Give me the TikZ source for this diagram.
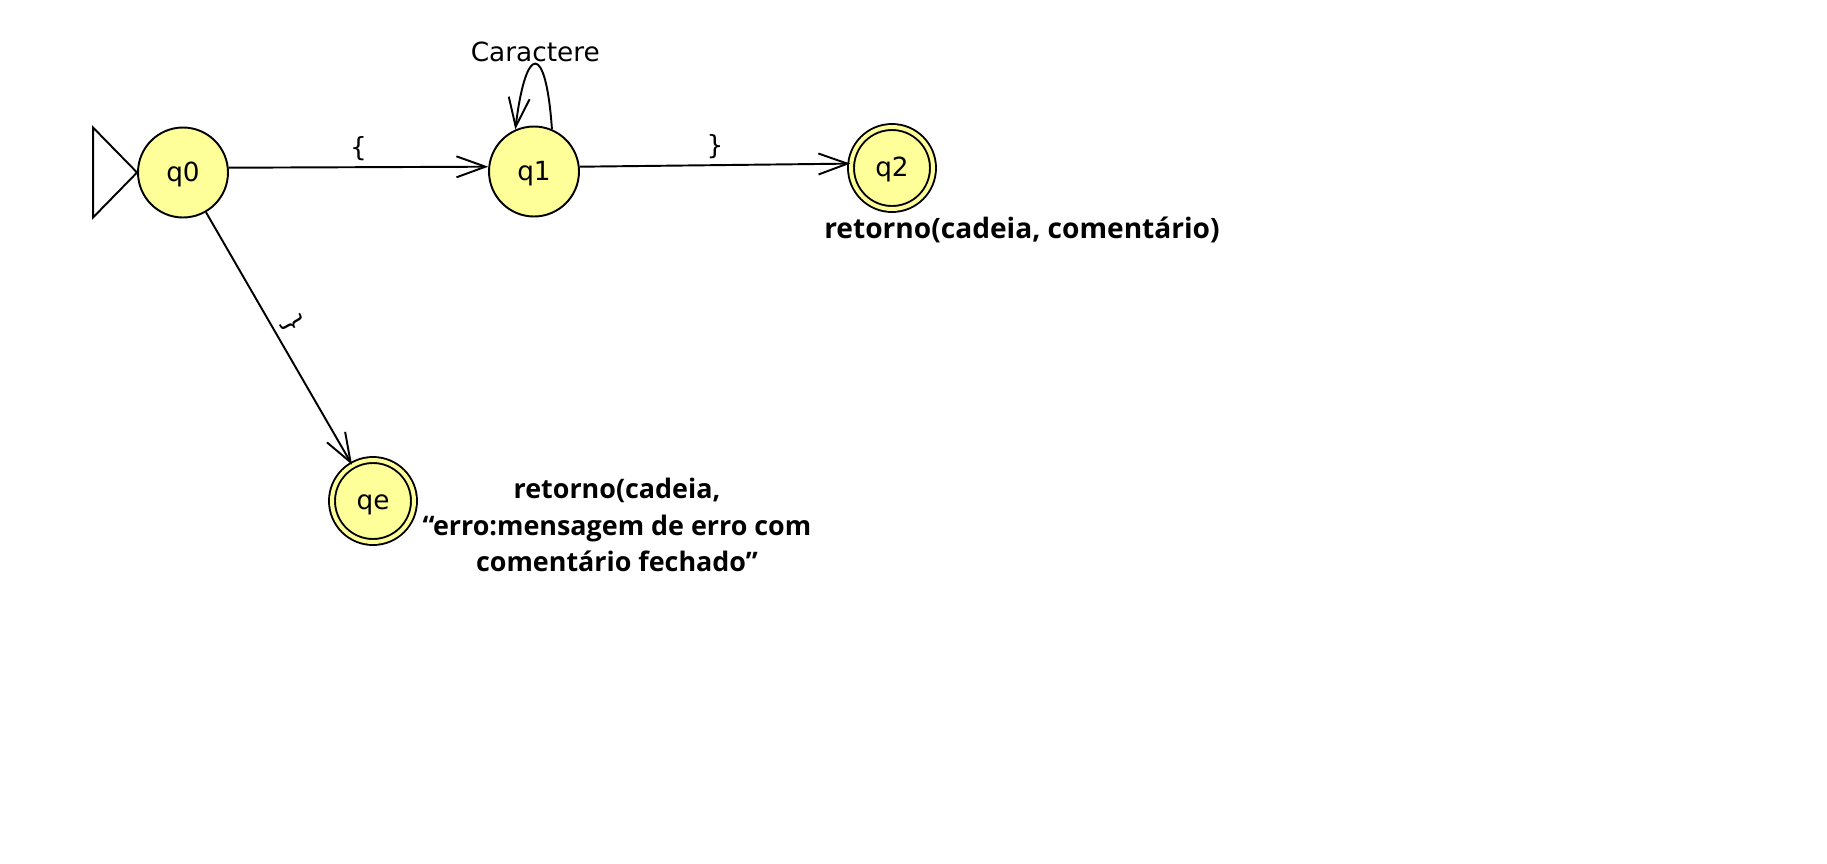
\documentclass[tikz,border=0pt]{standalone}
\usepackage{fontspec}
\setmainfont{DejaVu Sans}
\newfontfamily\notefont{Open Sans}
\usepackage{tikz}
\usetikzlibrary{positioning,calc,arrows.meta}

\definecolor{stateyellow}{RGB}{255,255,153}

\begin{document}
\begin{tikzpicture}[x=0.02cm, y=-0.02cm, font=\fontsize{15}{18}\selectfont]
 \useasboundingbox (0,0) rectangle (1827,863);

\tikzstyle{state}=[draw,circle,line width=1.1pt,fill=stateyellow,minimum size=1.8cm,inner sep=0pt,text height=1em,text depth=0pt]
\tikzstyle{final}=[state,double=stateyellow,double distance=0.08cm,minimum size=1.64cm]
\tikzstyle{trans}=[line width=1.1pt,-{Straight Barb[length=0.58cm,width=0.42cm]}]
\tikzstyle{note}=[font=\notefont\bfseries\fontsize{15.3}{21}\selectfont,align=center]

   %draw states
    \node (q0) [state] at (183,172.5) {q0};
    \node (q1) [state] at (534,171.5) {q1};
    \node (q2) [final] at (892,168) {q2};
    \node (qe) [final] at (373,501) {qe};

   %draw start marker
    \draw [line width=1.1pt] (q0.west) -- ++(-0.88cm,0.9cm) -- ++(0,-1.8cm) -- cycle;

   %draw transitions
    \draw [trans] (q0.6) -- (q1.174) node[midway,above] {\{};
    \draw [trans] (q1.6) -- (q2.174) node[midway,above] {\}};
    \draw [trans] (q0) -- (qe) node[pos=0.48,above,sloped] {\}};
    \draw [trans] (q1.67) .. controls +(94:1.75cm) and +(83:1.75cm) .. (q1.114) node[pos=0.5,above=-2.5pt] {Caractere};

   %notes
    \node (q2_note) [note,font=\notefont\bfseries\fontsize{16}{21}\selectfont] at (1022,230) {retorno(cadeia, comentário)};
    \node (qe_note) [note] at (617,525) {retorno(cadeia,\\“erro:mensagem de erro com\\comentário fechado”};

\end{tikzpicture}
\end{document}
